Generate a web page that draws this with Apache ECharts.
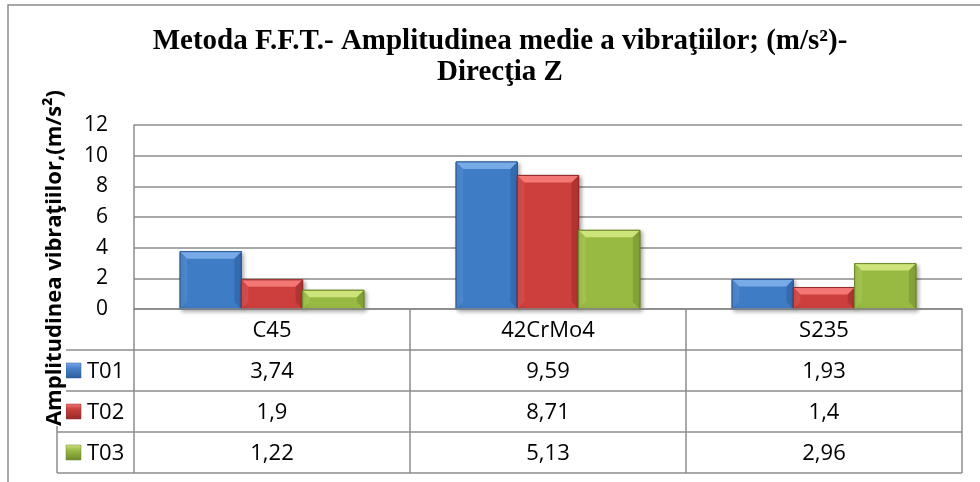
<!DOCTYPE html>
<html>
<head>
<meta charset="utf-8">
<script src="https://cdn.jsdelivr.net/npm/echarts@6/dist/echarts.min.js"></script>
<style>
  html, body { margin: 0; padding: 0; background: #ffffff; }
  #chart { width: 980px; height: 482px; }
</style>
</head>
<body>
<div id="chart"></div>
<script>
// date
const categories = ['C45', '42CrMo4', 'S235'];
const seriesNames = ['T01', 'T02', 'T03'];
const t01 = [3.74, 9.59, 1.93];
const t02 = [1.9, 8.71, 1.4];
const t03 = [1.22, 5.13, 2.96];
const yMin = 0, yMax = 12, yStep = 2;

const titleLines = ['Metoda F.F.T.- Amplitudinea medie a vibraţiilor; (m/s²)-', 'Direcţia Z'];
const yName = 'Amplitudinea vibraţiilor,(m/s²)';

// culori Excel 2007 (fata, bevel sus, margine inchisa)
const palette = [
  { main: '#3f7cc6', light: '#78aae8', dark: '#2b5c99', key: '#4a84cc' },
  { main: '#cc3f3c', light: '#f27775', dark: '#962a28', key: '#c8403d' },
  { main: '#98ba42', light: '#cde47a', dark: '#6f8a2c', key: '#9bbb45' }
];

const lineColor = '#8c8c8c';
const sansFont = '"Open Sans", "Liberation Sans", sans-serif';
const tableFont = '22px ' + sansFont;

const fmt = v => String(v).replace('.', ',');

function renderBar(params, api) {
  const cat = api.value(0);
  const val = api.value(1);
  const band = api.size([1, 0])[0];
  const w = band * 0.222;
  const base = api.coord([cat, 0]);
  const top = api.coord([cat, val]);
  const x0 = base[0] + (params.seriesIndex - 1.5) * w;
  const x1 = x0 + w;
  const yT = top[1], yB = base[1];
  const b = Math.min(7, (yB - yT) / 2);
  const c = palette[params.seriesIndex];
  return {
    type: 'group',
    children: [
      {
        type: 'rect',
        shape: { x: x0, y: yT, width: w, height: yB - yT },
        style: {
          fill: c.main,
          stroke: c.dark, lineWidth: 1,
          shadowBlur: 4, shadowOffsetX: 2, shadowOffsetY: 2,
          shadowColor: 'rgba(0,0,0,0.35)'
        }
      },
      {
        type: 'polygon',
        shape: { points: [[x0, yT], [x1, yT], [x1 - b, yT + b], [x0 + b, yT + b]] },
        style: { fill: c.light }
      },
      {
        type: 'polygon',
        shape: { points: [[x1, yT], [x1, yB], [x1 - b, yB - b], [x1 - b, yT + b]] },
        style: { fill: c.dark, opacity: 0.5 }
      },
      {
        type: 'polygon',
        shape: { points: [[x0, yT], [x0 + b, yT + b], [x0 + b, yB - b], [x0, yB]] },
        style: { fill: c.light, opacity: 0.25 }
      },
      {
        type: 'rect',
        shape: { x: x0, y: yT, width: w, height: yB - yT },
        style: { fill: 'none', stroke: c.dark, lineWidth: 1 }
      }
    ]
  };
}

const chart = echarts.init(document.getElementById('chart'));

const valueRows = [t01, t02, t03];

const option = {
  animation: false,
  grid: { left: 134, right: 18, top: 125, bottom: 173 },
  xAxis: {
    type: 'category',
    data: categories,
    axisLine: { show: true, lineStyle: { color: lineColor, width: 1.5 } },
    axisTick: { show: false },
    axisLabel: { show: false },
    splitLine: { show: false }
  },
  yAxis: {
    type: 'value',
    min: yMin, max: yMax, interval: yStep,
    axisLine: { show: true, lineStyle: { color: lineColor, width: 1.5 } },
    axisTick: { show: false },
    axisLabel: { color: '#000', fontFamily: sansFont, fontSize: 21, margin: 26 },
    splitLine: { lineStyle: { color: lineColor, width: 1.5 } }
  },
  series: valueRows.map((row, i) => ({
    name: seriesNames[i],
    type: 'custom',
    renderItem: renderBar,
    encode: { x: 0, y: 1 },
    data: row.map((v, k) => [k, v]),
    z: 3
  }))
};

chart.setOption(option);

// tabelul de date sub axa, aliniat cu categoriile
function buildTable() {
  const centers = categories.map((c, i) => chart.convertToPixel({ xAxisIndex: 0 }, i));
  const band = centers.length > 1 ? centers[1] - centers[0] : 276;
  const left = centers[0] - band / 2;
  const right = centers[centers.length - 1] + band / 2;
  const y0 = chart.convertToPixel({ yAxisIndex: 0 }, 0);
  const rowH = 41;
  const keyLeft = 57;
  const bottom = y0 + rowH * 4;
  const g = [];
  const line = (x1, y1, x2, y2) => g.push({
    type: 'line', shape: { x1, y1, x2, y2 },
    style: { stroke: lineColor, lineWidth: 1.5 }, z: 5
  });

  // chenarul exterior
  g.push({
    type: 'rect', shape: { x: 8, y: 5, width: 990, height: 500 },
    style: { fill: 'none', stroke: '#8a8a8a', lineWidth: 1.5 }, z: 1
  });

  // linii orizontale
  line(left, y0, right, y0);
  for (let r = 1; r <= 4; r++) line(keyLeft, y0 + rowH * r, right, y0 + rowH * r);
  // linii verticale
  line(keyLeft, y0 + rowH, keyLeft, bottom);
  line(left, y0, left, bottom);
  for (let i = 1; i < categories.length; i++) line(left + band * i, y0, left + band * i, bottom);
  line(right, y0, right, bottom);

  // antet categorii
  categories.forEach((c, i) => g.push({
    type: 'text', x: centers[i], y: y0 + rowH / 2 + 1, z: 6,
    style: { text: c, font: tableFont, fill: '#000', align: 'center', verticalAlign: 'middle' }
  }));

  valueRows.forEach((row, r) => {
    const cy = y0 + rowH * (r + 1) + rowH / 2;
    const c = palette[r];
    g.push({
      type: 'rect', shape: { x: 66, y: cy - 7.5, width: 15, height: 15 }, z: 6,
      style: {
        fill: new echarts.graphic.LinearGradient(0, 0, 0, 1, [
          { offset: 0, color: c.light }, { offset: 0.35, color: c.key }, { offset: 1, color: c.dark }
        ]),
        stroke: c.dark, lineWidth: 0.5
      }
    });
    g.push({
      type: 'text', x: 87, y: cy + 1, z: 6,
      style: { text: seriesNames[r], font: tableFont, fill: '#000', align: 'left', verticalAlign: 'middle' }
    });
    row.forEach((v, i) => g.push({
      type: 'text', x: centers[i], y: cy + 1, z: 6,
      style: { text: fmt(v), font: tableFont, fill: '#000', align: 'center', verticalAlign: 'middle' }
    }));
  });

  // titlul
  titleLines.forEach((t, i) => g.push({
    type: 'text', x: 500, y: 42 + i * 31, z: 6,
    style: { text: t, font: 'bold 29px "Liberation Serif", "Times New Roman", serif', fill: '#000', align: 'center', verticalAlign: 'middle' }
  }));

  // titlul axei Y (peste tabel, cu fond alb)
  g.push({
    type: 'text', x: 55, y: 258, rotation: Math.PI / 2, z: 8,
    style: {
      text: yName, font: 'bold 22px ' + sansFont, fill: '#000',
      align: 'center', verticalAlign: 'middle',
      backgroundColor: '#ffffff'
    }
  });

  chart.setOption({ graphic: { elements: g } });
}

buildTable();
</script>
</body>
</html>
